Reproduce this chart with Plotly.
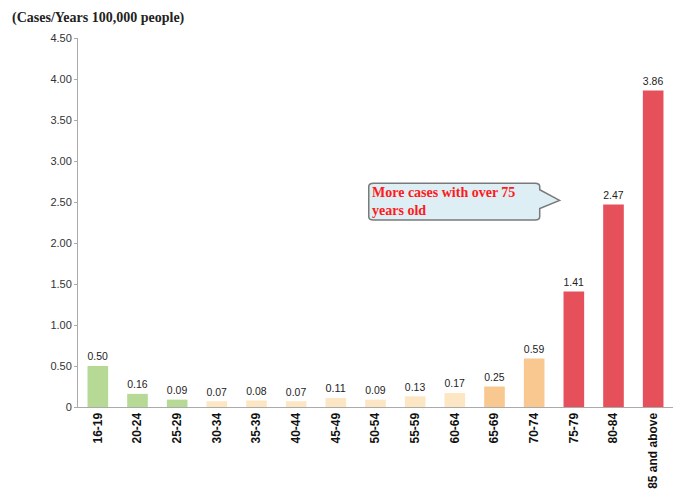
import plotly.graph_objects as go

categories = ["16-19", "20-24", "25-29", "30-34", "35-39", "40-44", "45-49", "50-54",
              "55-59", "60-64", "65-69", "70-74", "75-79", "80-84", "85 and above"]
values = [0.50, 0.16, 0.09, 0.07, 0.08, 0.07, 0.11, 0.09, 0.13, 0.17, 0.25, 0.59, 1.41, 2.47, 3.86]
value_labels = ["0.50", "0.16", "0.09", "0.07", "0.08", "0.07", "0.11", "0.09", "0.13", "0.17",
                "0.25", "0.59", "1.41", "2.47", "3.86"]
bar_colors = ["#b6da96", "#b6da96", "#b6da96",
              "#fde6c4", "#fde6c4", "#fde6c4", "#fde6c4", "#fde6c4", "#fde6c4", "#fde6c4",
              "#f9c890", "#f9c890",
              "#e6505b", "#e6505b", "#e6505b"]
y_tickvals = [0, 0.5, 1.0, 1.5, 2.0, 2.5, 3.0, 3.5, 4.0, 4.5]
y_ticktext = ["0", "0.50", "1.00", "1.50", "2.00", "2.50", "3.00", "3.50", "4.00", "4.50"]

fig = go.Figure()
fig.add_trace(go.Bar(
    x=categories, y=values, marker=dict(color=bar_colors, line=dict(width=0)),
    width=0.52, text=value_labels, textposition="outside", cliponaxis=False,
    textfont=dict(family="Arial, Liberation Sans", size=12, color="#222"),
    hoverinfo="skip",
))

# callout box (data coordinates on the categorical axis)
x0, x1 = 6.83, 11.14
y0, y1 = 2.28, 2.73
r_x, r_y = 0.12, 0.04
path = (f"M {x0+r_x},{y1} L {x1-r_x},{y1} Q {x1},{y1} {x1},{y1-r_y} "
        f"L {x1},2.65 L 11.64,2.52 L {x1},2.42 "
        f"L {x1},{y0+r_y} Q {x1},{y0} {x1-r_x},{y0} L {x0+r_x},{y0} Q {x0},{y0} {x0},{y0+r_y} "
        f"L {x0},{y1-r_y} Q {x0},{y1} {x0+r_x},{y1} Z")
fig.add_shape(type="path", path=path, xref="x", yref="y",
              fillcolor="#ddeef4", line=dict(color="#7a7a7a", width=1.5), layer="above")
fig.add_annotation(x=x0 + 0.02, y=(y0 + y1) / 2, xref="x", yref="y", xanchor="left", yanchor="middle",
                   text="<b>More cases with over 75<br>years old</b>", showarrow=False, align="left",
                   font=dict(family="Liberation Serif, Times New Roman", size=14, color="#ff1a1a"))

fig.update_layout(
    width=676, height=493,
    margin=dict(l=78, r=3, t=38, b=86),
    paper_bgcolor="white", plot_bgcolor="white",
    showlegend=False, bargap=0.45,
    title=dict(text="<b>(Cases/Years 100,000 people)</b>", xref="container", yref="container",
               x=12 / 676, xanchor="left", y=1 - 17 / 493, yanchor="middle",
               font=dict(family="Liberation Serif, Times New Roman", size=14, color="#222")),
)
fig.update_yaxes(range=[0, 4.5], tickvals=y_tickvals, ticktext=y_ticktext, automargin=False,
                 showgrid=False, zeroline=False, showline=True, linecolor="#aaaaaa", linewidth=1,
                 ticks="outside", ticklen=3, tickcolor="#aaaaaa",
                 tickfont=dict(family="Arial, Liberation Sans", size=11, color="#333"))
fig.update_xaxes(tickangle=-90, showgrid=False, showline=True, linecolor="#aaaaaa", linewidth=1,
                 ticks="", automargin=False,
                 tickfont=dict(family="Arial, Liberation Sans", size=12, color="#111"),
                 ticktext=[f"<b>{c}</b>" for c in categories], tickvals=categories)

fig.write_html("out.html", config={"displayModeBar": False},
               post_script="document.body.style.margin='0';document.body.style.overflow='hidden';")
